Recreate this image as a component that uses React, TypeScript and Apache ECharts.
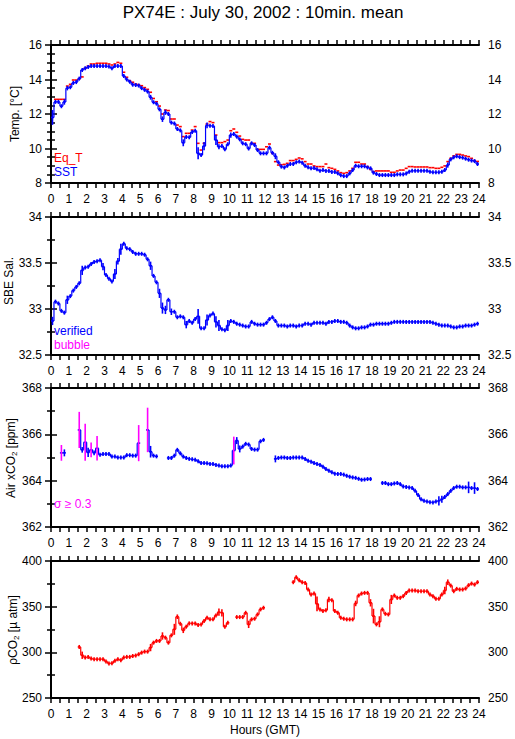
import React, { useEffect, useRef } from "react";
import * as echarts from "echarts";

// ---------- data (10-minute means, 6 values per hour, 00:00-24:00 GMT) ----------
const HOUR_TICKS = [0, 1, 2, 3, 4, 5, 6, 7, 8, 9, 10, 11, 12, 13, 14, 15, 16, 17, 18, 19, 20, 21, 22, 23, 24];

const sst: (number | null)[] = [
  11.8, 12.7, 12.7, 12.45, 12.7, 13.5,
  13.55, 13.8, 13.85, 14.05, 14.55, 14.65,
  14.72, 14.78, 14.78, 14.78, 14.78, 14.78,
  14.78, 14.75, 14.65, 14.78, 14.78, 14.78,
  14.2, 14.0, 13.87, 13.7, 13.68, 13.65,
  13.5, 13.4, 13.3, 12.97, 12.68, 12.6,
  12.27, 11.7, 12.1, 12.0, 11.5, 11.45,
  11.13, 11.05, 10.33, 10.67, 10.65, 10.95,
  11.03, 9.72, 9.62, 10.14, 11.34, 11.32,
  11.3, 10.49, 10.1, 10.14, 9.95, 10.24,
  10.78, 10.84, 10.69, 10.53, 10.3, 10.25,
  10.0, 10.3, 10.2, 9.91, 9.72, 9.72,
  9.72, 10.05, 9.75, 9.55, 9.2, 8.95,
  8.9, 9.0, 9.1, 9.1, 9.2, 9.24,
  9.18, 9.0, 8.91, 8.85, 8.87, 8.79,
  8.71, 8.75, 8.7, 8.7, 8.64, 8.64,
  8.56, 8.45, 8.4, 8.4, 8.56, 8.75,
  9.0, 8.97, 8.97, 8.97, 8.9, 8.85,
  8.6, 8.52, 8.46, 8.46, 8.46, 8.46,
  8.46, 8.46, 8.5, 8.5, 8.5, 8.55,
  8.65, 8.71, 8.71, 8.71, 8.71, 8.71,
  8.71, 8.65, 8.62, 8.62, 8.62, 8.65,
  8.75, 9.04, 9.37, 9.49, 9.55, 9.5,
  9.47, 9.41, 9.35, 9.3, 9.27, 9.1,
];
const sstErr: [number, number][] = [
  [0.08, 0.43], [0.75, 0.16], [0.92, 0.13], [1.75, 0.1], [5.58, 0.14], [6.25, 0.16], [6.42, 0.15],
  [7.42, 0.2], [8.25, 0.35], [8.58, 0.24], [8.75, 0.17], [9.25, 0.29], [9.42, 0.15], [10.08, 0.15],
  [12.58, 0.17], [22.17, 0.15],
];

const eqT: (number | null)[] = [
  null, 12.85, 12.85, 12.85, 12.85, 13.62,
  13.72, 13.97, 13.97, 14.05, 14.15, 14.65,
  14.78, 14.9, 14.9, 14.94, 14.94, 14.94,
  14.94, 14.9, 14.84, 14.9, 14.99, 14.94,
  14.42, 14.13, 13.93, 13.84, 13.74, 13.7,
  13.64, 13.53, 13.43, 13.26, 12.9, 12.71,
  12.46, 12.0, 12.23, 12.2, 11.71, 11.71,
  11.36, 11.27, 10.69, 10.88, 10.88, 11.07,
  11.27, 10.3, 9.91, 10.3, 11.42, 11.56,
  11.5, 10.78, 10.34, 10.34, 10.4, 10.49,
  11.03, 11.13, 10.94, 10.72, 10.53, 10.49,
  10.49, 10.3, 10.3, 9.95, 9.95, 9.95,
  10.1, 10.26, 9.72, 9.24, 9.04, 9.06,
  9.08, 9.14, 9.3, 9.3, 9.37, 9.45,
  9.4, 9.24, 9.1, 9.1, 8.99, 8.95,
  8.95, 8.95, 9.1, 8.89, 8.85, 8.79,
  8.7, 8.6, 8.56, 8.6, 8.7, 8.85,
  9.2, 9.2, 9.1, 9.1, 8.95, 8.79,
  8.66, 8.7, 8.7, 8.7, 8.7, 8.7,
  8.62, 8.62, 8.7, 8.75, 8.75, 8.85,
  8.95, 8.95, 8.93, 8.93, 8.93, 8.93,
  8.93, 8.89, 8.89, 8.85, 8.85, 8.91,
  8.99, 9.24, 9.43, 9.57, 9.66, 9.66,
  9.62, 9.57, 9.53, 9.43, 9.3, 9.25,
];

const salinity: (number | null)[] = [
  32.87, 33.08, 33.06, 32.98, 32.96, 33.1,
  33.14, 33.2, 33.24, 33.28, 33.42, 33.45,
  33.46, 33.49, 33.51, 33.52, 33.53, 33.46,
  33.37, 33.33, 33.3, 33.38, 33.52, 33.65,
  33.71, 33.66, 33.65, 33.62, 33.6, 33.6,
  33.6, 33.59, 33.54, 33.47, 33.36, 33.29,
  33.17, 33.01, 32.99, 33.1, 32.97, 32.97,
  32.91, 32.92, 32.91, 32.83, 32.87, 32.85,
  32.89, 32.92, 32.79, 32.79, 32.88, 32.93,
  32.95, 32.86, 32.82, 32.78, 32.77, 32.82,
  32.87, 32.86, 32.84, 32.83, 32.82, 32.81,
  32.81, 32.86, 32.84, 32.83, 32.83, 32.83,
  32.85, 32.89, 32.91, 32.87, 32.82, 32.82,
  32.82, 32.81, 32.82, 32.82, 32.81, 32.82,
  32.82, 32.84, 32.84, 32.83, 32.85, 32.85,
  32.85, 32.85, 32.84, 32.86, 32.86, 32.87,
  32.87, 32.86, 32.86, 32.85, 32.82, 32.8,
  32.79, 32.79, 32.8, 32.8, 32.81, 32.83,
  32.83, 32.84, 32.84, 32.84, 32.84, 32.84,
  32.85, 32.86, 32.86, 32.86, 32.86, 32.86,
  32.86, 32.86, 32.86, 32.86, 32.86, 32.86,
  32.86, 32.86, 32.85, 32.84, 32.83, 32.82,
  32.82, 32.82, 32.81, 32.8, 32.8, 32.81,
  32.81, 32.82, 32.82, 32.82, 32.83, 32.84,
];
const salErr: [number, number][] = [
  [0.08, 0.045], [0.92, 0.045], [1.75, 0.05], [2.92, 0.04], [3.58, 0.055], [3.75, 0.035], [3.92, 0.06],
  [5.58, 0.045], [6.08, 0.05], [6.25, 0.06], [6.42, 0.045], [6.75, 0.035], [7.58, 0.04], [8.25, 0.08],
  [8.75, 0.06], [9.25, 0.06], [9.42, 0.06], [9.92, 0.06],
];

const airCO2: (number | null)[] = [
  null, null, null, 365.2, 365.2, null,
  null, null, null, 366.19, 365.33, 365.66,
  365.22, 365.33, 365.2, 365.4, 365.12, 365.15,
  365.15, 365.15, 365.04, 365.04, 365.0, 365.0,
  365.0, 365.1, 365.1, 365.08, 365.08, 365.62,
  null, null, 366.19, 365.25, 365.08, 365.05,
  null, null, null, 364.98, 364.98, 365.08,
  365.33, 365.18, 365.04, 364.98, 364.94, 364.92,
  364.9, 364.84, 364.76, 364.76, 364.75, 364.72,
  364.72, 364.68, 364.65, 364.62, 364.62, 364.62,
  364.65, 365.3, 365.73, 365.37, 365.47, 365.59,
  365.56, 365.37, 365.34, 365.34, 365.7, 365.76,
  null, null, null, 364.94, 364.98, 365.0,
  365.0, 364.98, 364.98, 365.0, 365.0, 365.0,
  365.0, 364.94, 364.86, 364.82, 364.76, 364.72,
  364.68, 364.6, 364.5, 364.43, 364.36, 364.3,
  364.29, 364.29, 364.26, 364.21, 364.17, 364.14,
  364.12, 364.08, 364.04, 364.05, 364.07, 364.07,
  null, null, null, 363.9, 363.9, 363.85,
  363.85, 363.88, 363.9, 363.85, 363.75, 363.73,
  363.71, 363.68, 363.56, 363.38, 363.2, 363.13,
  363.1, 363.07, 363.06, 363.1, 363.13, 363.2,
  363.3, 363.42, 363.56, 363.68, 363.74, 363.74,
  363.71, 363.71, 363.71, 363.68, 363.68, 363.64,
];
const airErr: [number, number][] = [
  [0.75, 0.15], [1.75, 0.12], [2.08, 0.2], [2.42, 0.1], [5.58, 0.25], [10.42, 0.15], [10.58, 0.15],
  [12.58, 0.15], [21.75, 0.2], [21.92, 0.15], [23.42, 0.25], [23.75, 0.25],
];
// sigma >= 0.3 (drawn in magenta)
const airHighSigma: [number, number][] = [
  [0.58, 0.34], [1.58, 0.78], [1.92, 0.8], [2.25, 0.32], [2.58, 0.53], [4.92, 0.78], [5.42, 0.96], [10.25, 0.6],
];

const pco2: (number | null)[] = [
  null, null, null, null, null, null,
  null, null, null, 305.9, 296.8, 294.3,
  295.0, 293.2, 292.5, 292.5, 292.5, 292.5,
  290.0, 287.8, 288.1, 290.7, 292.5, 291.4,
  294.3, 295.0, 295.0, 296.0, 296.5, 297.9,
  299.7, 300.8, 300.8, 305.2, 310.6, 312.5,
  312.5, 317.9, 316.1, 310.6, 318.6, 325.2,
  339.0, 331.3, 324.1, 328.1, 331.7, 331.7,
  331.7, 329.9, 330.6, 334.3, 337.9, 336.1,
  336.1, 340.4, 344.1, 343.3, 328.1, 332.4,
  null, null, 338.6, 338.6, 338.6, 343.3,
  330.6, 336.1, 336.8, 341.5, 347.0, 348.8,
  null, null, null, null, null, null,
  null, null, null, 376.8, 382.2, 378.9,
  376.8, 376.0, 368.8, 363.3, 364.4, 353.1,
  347.0, 345.2, 346.2, 357.9, 357.1, 345.2,
  343.3, 337.9, 336.8, 336.1, 336.1, 336.1,
  353.5, 362.2, 364.4, 365.1, 365.1, 354.2,
  339.7, 330.6, 333.5, 347.0, 342.2, 341.5,
  357.9, 362.2, 359.7, 359.7, 361.5, 365.1,
  367.7, 367.7, 367.7, 366.9, 366.9, 366.9,
  366.9, 363.3, 361.5, 358.6, 358.6, 363.3,
  367.7, 376.8, 373.1, 366.9, 369.5, 368.8,
  368.8, 369.9, 373.5, 375.3, 374.2, 376.8,
];
const pco2Err: [number, number][] = [
  [1.75, 4], [5.58, 4], [6.25, 4], [6.92, 6], [7.08, 2.5], [7.42, 3], [9.42, 4], [9.58, 4], [11.08, 4],
  [14.92, 8], [15.58, 3], [17.08, 3], [17.92, 4], [18.08, 8], [18.42, 6], [19.08, 5], [22.08, 4], [22.25, 3],
];

// ---------- helpers ----------
const FONT = "'Liberation Sans', Arial, Helvetica, sans-serif";
const BLUE = "#0000ff";
const RED = "#ff0000";
const MAGENTA = "#ff00ff";

const idxOf = (h: number) => Math.round(h * 6 - 0.5);

function buildPoints(values: (number | null)[], errs: [number, number][], flagged: [number, number][] = []) {
  const errMap: Record<number, number> = {};
  errs.forEach(([h, s]) => (errMap[idxOf(h)] = s));
  const flagMap: Record<number, number> = {};
  flagged.forEach(([h, s]) => (flagMap[idxOf(h)] = s));
  const out: number[][] = [];
  values.forEach((v, i) => {
    if (v == null) return;
    const prev = i > 0 && values[i - 1] != null ? (values[i - 1] as number) : v;
    const s = flagMap[i] != null ? flagMap[i] : errMap[i] != null ? errMap[i] : 0;
    out.push([(i + 0.5) / 6, v, s, prev, flagMap[i] != null ? 1 : 0]);
  });
  return out;
}

function markSeries(gridIndex: number, data: number[][], color: string, opts: { bars: boolean; risers: boolean }) {
  return {
    type: "custom",
    xAxisIndex: gridIndex * 2,
    yAxisIndex: gridIndex * 2,
    data,
    encode: { x: 0, y: 1 },
    clip: true,
    renderItem: (params: any, api: any) => {
      const t = api.value(0);
      const v = api.value(1);
      const s = api.value(2);
      const p = api.value(3);
      const flag = api.value(4);
      const half = 1 / 12;
      const a = api.coord([t - half, v]);
      const b = api.coord([t + half, v]);
      const c = api.coord([t, v]);
      const children: any[] = [
        {
          type: "line",
          shape: { x1: a[0], y1: a[1], x2: b[0], y2: b[1] },
          style: { stroke: color, lineWidth: 1.6 },
        },
      ];
      if (opts.risers && p !== v) {
        const pp = api.coord([t - half, p]);
        children.push({
          type: "line",
          shape: { x1: a[0], y1: pp[1], x2: a[0], y2: a[1] },
          style: { stroke: color, lineWidth: 1.2 },
        });
      }
      if (opts.bars) {
        let top = api.coord([t, v + s])[1];
        let bot = api.coord([t, v - s])[1];
        if (bot - top < 4) {
          top = c[1] - 2;
          bot = c[1] + 2;
        }
        children.push({
          type: "line",
          shape: { x1: c[0], y1: top, x2: c[0], y2: bot },
          style: { stroke: flag ? MAGENTA : color, lineWidth: 1.6 },
        });
      }
      return { type: "group", children };
    },
  };
}

const GRID_LEFT = 51;
const GRID_WIDTH = 428;
const GRIDS = [
  { top: 45, height: 138 },
  { top: 217, height: 138 },
  { top: 388, height: 139 },
  { top: 561, height: 137 },
];
const Y_SCALES = [
  { min: 8, max: 16, interval: 2, split: 4 },
  { min: 32.5, max: 34, interval: 0.5, split: 2 },
  { min: 362, max: 368, interval: 2, split: 2 },
  { min: 250, max: 400, interval: 50, split: 2 },
];

export default function App() {
  const ref = useRef<HTMLDivElement>(null);

  useEffect(() => {
    if (!ref.current) return;
    const chart = echarts.init(ref.current, undefined, { renderer: "svg" });

    const axisLine = { show: true, lineStyle: { color: "#000", width: 2 } };
    const tickStyle = { color: "#000", width: 1.5 };
    const label = { color: "#000", fontFamily: FONT, fontSize: 12 };

    const grid = GRIDS.map((g) => ({ left: GRID_LEFT, width: GRID_WIDTH, top: g.top, height: g.height }));
    const xAxis: any[] = [];
    const yAxis: any[] = [];
    GRIDS.forEach((_, gi) => {
      xAxis.push({
        type: "value",
        gridIndex: gi,
        position: "bottom",
        min: 0,
        max: 24,
        interval: 1,
        axisLine,
        axisTick: { show: true, length: 5, lineStyle: tickStyle },
        minorTick: { show: true, splitNumber: 2, length: 5, lineStyle: tickStyle },
        axisLabel: { ...label, margin: 10, formatter: (v: number) => (HOUR_TICKS.includes(v) ? String(v) : "") },
        splitLine: { show: false },
      });
      xAxis.push({
        type: "value",
        gridIndex: gi,
        position: "top",
        min: 0,
        max: 24,
        interval: 1,
        axisLine,
        axisTick: { show: true, length: 5, lineStyle: tickStyle },
        minorTick: { show: true, splitNumber: 2, length: 5, lineStyle: tickStyle },
        axisLabel: { show: false },
        splitLine: { show: false },
      });
      const ys = Y_SCALES[gi];
      const yBase = {
        type: "value",
        gridIndex: gi,
        min: ys.min,
        max: ys.max,
        interval: ys.interval,
        axisLine,
        axisTick: { show: true, length: 6, lineStyle: tickStyle },
        minorTick: { show: true, splitNumber: ys.split, length: 4, lineStyle: tickStyle },
        splitLine: { show: false },
        axisLabel: { ...label, margin: 9 },
      };
      yAxis.push({ ...yBase, position: "left" });
      yAxis.push({ ...yBase, position: "right" });
    });

    const series: any[] = [
      markSeries(0, buildPoints(eqT, []), RED, { bars: false, risers: false }),
      markSeries(0, buildPoints(sst, sstErr), BLUE, { bars: true, risers: true }),
      markSeries(1, buildPoints(salinity, salErr), BLUE, { bars: true, risers: true }),
      markSeries(2, buildPoints(airCO2, airErr, airHighSigma), BLUE, { bars: true, risers: true }),
      markSeries(3, buildPoints(pco2, pco2Err), RED, { bars: true, risers: true }),
    ];

    const txt = (x: number, y: number, text: string, opts: any = {}) => ({
      type: "text",
      x,
      y,
      rotation: opts.rotation || 0,
      style: {
        text,
        fill: opts.color || "#000",
        font: `${opts.size || 12}px ${FONT}`,
        textAlign: opts.align || "left",
        textVerticalAlign: "middle",
        rich: opts.rich,
      },
      z: 100,
    });

    const sub = { fontSize: 8, fontFamily: FONT, fill: "#000", padding: [7, 0, 0, 0] };
    const norm = { fontSize: 12, fontFamily: FONT, fill: "#000" };

    const graphic = [
      txt(263, 12, "PX74E : July 30, 2002 : 10min. mean", { size: 17, align: "center" }),
      txt(15, 114, "Temp. [°C]", { rotation: Math.PI / 2, align: "center" }),
      txt(9, 281, "SBE Sal.", { rotation: Math.PI / 2, align: "center" }),
      txt(11, 458, "{n|Air xCO}{s|2}{n| [ppm]}", { rotation: Math.PI / 2, align: "center", rich: { n: norm, s: sub } }),
      txt(13, 630, "{n|ρCO}{s|2}{n| [µ atm]}", { rotation: Math.PI / 2, align: "center", rich: { n: norm, s: sub } }),
      txt(265, 730, "Hours (GMT)", { align: "center" }),
      txt(54, 158, "Eq_T", { color: RED, size: 12 }),
      txt(54, 172, "SST", { color: BLUE, size: 12 }),
      txt(54, 331, "verified", { color: BLUE, size: 12 }),
      txt(54, 345, "bubble", { color: MAGENTA, size: 12 }),
      txt(54, 504, "σ ≥ 0.3", { color: MAGENTA, size: 12 }),
    ];

    chart.setOption({
      animation: false,
      backgroundColor: "#fff",
      grid,
      xAxis,
      yAxis,
      series,
      graphic,
    });

    return () => chart.dispose();
  }, []);

  return <div ref={ref} style={{ position: "absolute", left: 0, top: 0, width: 515, height: 739 }} />;
}
